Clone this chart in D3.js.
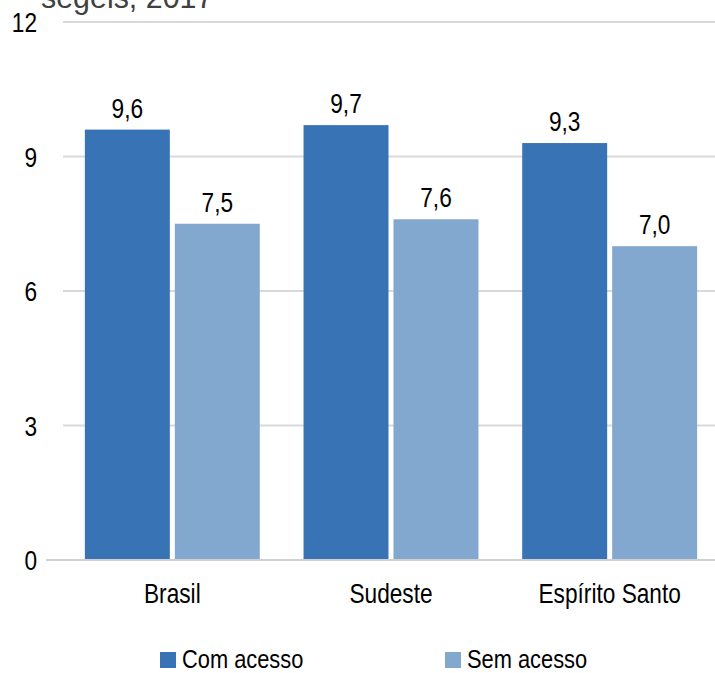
<!DOCTYPE html>
<html>
<head>
<meta charset="utf-8">
<script src="https://cdn.jsdelivr.net/npm/d3@7"></script>
<style>
  html, body { margin: 0; padding: 0; background: #fff; }
  svg { display: block; }
  text { font-family: "Liberation Sans", Arial, sans-serif; fill: #000; }
</style>
</head>
<body>
<svg id="chart" width="715" height="673"></svg>
<script>
const categories = ["Brasil", "Sudeste", "Espírito Santo"];
const seriesNames = ["Com acesso", "Sem acesso"];
const comAcesso = [9.6, 9.7, 9.3];
const semAcesso = [7.5, 7.6, 7.0];
const yTicks = [0, 3, 6, 9, 12];
const titleFragment = "segeis, 2017";

const colors = ["#3874b5", "#83a8d0"];
const seriesValues = [comAcesso, semAcesso];
const SX = 0.84; // condensed look
const FS = "27px";

const svg = d3.select("#chart");
const W = 715;

const y = d3.scaleLinear().domain([0, 12]).range([560, 22]);
const x0 = d3.scaleBand().domain(categories).range([63, 719]).paddingInner(0.2).paddingOuter(0.1);
const x1 = d3.scaleBand().domain(seriesNames).range([0, x0.bandwidth()]).paddingInner(0.0556).paddingOuter(0);
const color = d3.scaleOrdinal().domain(seriesNames).range(colors);

// Title fragment (clipped at top, as in the reference)
svg.append("text")
  .attr("transform", "translate(41,8) scale(0.95,1)")
  .style("font-size", "32px")
  .style("fill", "#404040")
  .text(titleFragment);

// Gridlines
svg.append("g").selectAll("line")
  .data(yTicks.filter(d => d !== 0))
  .join("line")
  .attr("x1", 63).attr("x2", W)
  .attr("y1", d => y(d)).attr("y2", d => y(d))
  .attr("stroke", "#d9d9d9").attr("stroke-width", 2);

// Y axis labels
const yAxis = d3.axisLeft(y).tickValues(yTicks).tickSize(0).tickPadding(0).tickFormat(d3.format("d"));
const yg = svg.append("g").attr("transform", "translate(37,0)").call(yAxis);
yg.select(".domain").remove();
yg.selectAll("text")
  .attr("x", 0)
  .attr("dy", "0.36em")
  .attr("transform", `scale(${SX},1)`)
  .style("font-size", FS)
  .style("font-family", "'Liberation Sans', Arial, sans-serif");

// Bars
const data = categories.map((c, i) => ({ cat: c, vals: seriesNames.map((s, j) => ({ s, v: seriesValues[j][i] })) }));
const groups = svg.append("g").selectAll("g")
  .data(data).join("g")
  .attr("transform", d => `translate(${x0(d.cat)},0)`);

groups.selectAll("rect")
  .data(d => d.vals).join("rect")
  .attr("x", d => x1(d.s))
  .attr("width", x1.bandwidth())
  .attr("y", d => y(d.v))
  .attr("height", d => y(0) - y(d.v))
  .attr("fill", d => color(d.s));

const fmt = v => d3.format(".1f")(v).replace(".", ",");
groups.selectAll("text.val")
  .data(d => d.vals).join("text")
  .attr("class", "val")
  .attr("transform", d => `translate(${x1(d.s) + x1.bandwidth() / 2},${y(d.v) - 12}) scale(${SX},1)`)
  .attr("text-anchor", "middle")
  .style("font-size", FS)
  .text(d => fmt(d.v));

// Baseline
svg.append("line")
  .attr("x1", 46).attr("x2", W)
  .attr("y1", y(0)).attr("y2", y(0))
  .attr("stroke", "#d0d0d0").attr("stroke-width", 2);

// Category labels
const xAxis = d3.axisBottom(x0).tickSize(0).tickPadding(0);
const xg = svg.append("g").attr("transform", `translate(0,${y(0)})`).call(xAxis);
xg.select(".domain").remove();
xg.selectAll("text")
  .attr("y", 43).attr("dy", 0)
  .attr("transform", `scale(${SX},1)`)
  .style("font-size", FS)
  .style("font-family", "'Liberation Sans', Arial, sans-serif");

// Legend
const legendX = [160, 445];
const legend = svg.append("g").selectAll("g")
  .data(seriesNames).join("g")
  .attr("transform", (d, i) => `translate(${legendX[i]},652)`);
legend.append("rect").attr("width", 16).attr("height", 16).attr("fill", d => color(d));
legend.append("text")
  .attr("transform", `translate(22,15.5) scale(${SX},1)`)
  .style("font-size", "26px")
  .text(d => d);
</script>
</body>
</html>
